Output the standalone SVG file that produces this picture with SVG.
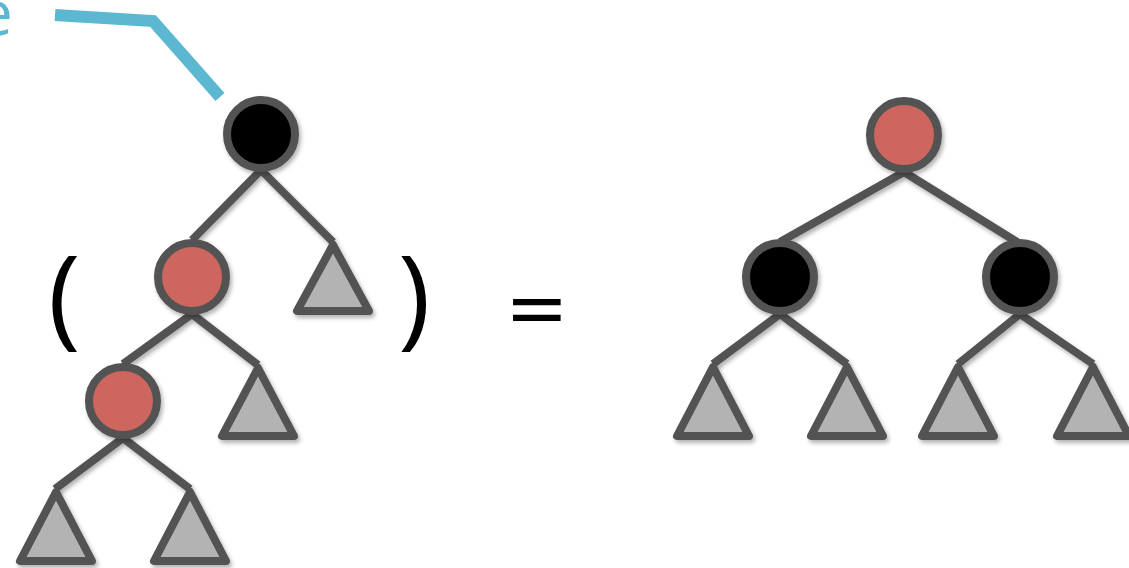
<svg xmlns="http://www.w3.org/2000/svg" width="1129" height="568" viewBox="0 0 1129 568">
<defs>
<filter id="sh" x="-30%" y="-30%" width="160%" height="160%">
<feDropShadow dx="2" dy="3" stdDeviation="2" flood-color="#000" flood-opacity="0.3"/>
</filter>
<style>
.edge{stroke:#525252;stroke-width:8;fill:none;stroke-linecap:butt}
.blk{fill:#000;stroke:#525252;stroke-width:8}
.red{fill:#cc665f;stroke:#525252;stroke-width:8}
.tri{fill:#b3b3b3;stroke:#525252;stroke-width:8;stroke-linejoin:round}
.sym{font-family:"Open Sans","DejaVu Sans",sans-serif;fill:#000}
</style>
</defs>
<rect width="1129" height="568" fill="#fff"/>
<text x="-22" y="35" font-family="Open Sans, DejaVu Sans, sans-serif" font-size="62" fill="#5bb8d0">e</text>
<polyline points="55,15 153,21 220,97" fill="none" stroke="#5bb8d0" stroke-width="12"/>
<g id="connectors" filter="url(#sh)">
<line class="edge" x1="261" y1="170" x2="192" y2="240"/>
<line class="edge" x1="261" y1="170" x2="333" y2="242"/>
<line class="edge" x1="192" y1="314" x2="123" y2="364"/>
<line class="edge" x1="192" y1="314" x2="258" y2="365"/>
<line class="edge" x1="123" y1="438" x2="55" y2="489"/>
<line class="edge" x1="123" y1="438" x2="190" y2="489"/>
<line class="edge" x1="904" y1="172" x2="780" y2="242"/>
<line class="edge" x1="904" y1="172" x2="1017" y2="242"/>
<line class="edge" x1="780" y1="314" x2="713" y2="364"/>
<line class="edge" x1="780" y1="314" x2="847" y2="364"/>
<line class="edge" x1="1020" y1="314" x2="958" y2="364"/>
<line class="edge" x1="1020" y1="314" x2="1093" y2="364"/>
</g>
<g id="L_root" filter="url(#sh)"><circle class="blk" cx="261" cy="134" r="34"/></g>
<g id="L_mid" filter="url(#sh)"><circle class="red" cx="192" cy="277" r="34"/></g>
<g id="L_low" filter="url(#sh)"><circle class="red" cx="123" cy="401" r="34"/></g>
<g id="L_t1" filter="url(#sh)"><polygon class="tri" points="333,245 297,311 369,311"/></g>
<g id="L_t2" filter="url(#sh)"><polygon class="tri" points="258,368 222,436 294,436"/></g>
<g id="L_t3" filter="url(#sh)"><polygon class="tri" points="56,492 20,561 92,561"/></g>
<g id="L_t4" filter="url(#sh)"><polygon class="tri" points="190,492 154,561 226,561"/></g>
<g id="R_root" filter="url(#sh)"><circle class="red" cx="904" cy="135" r="34"/></g>
<g id="R_left" filter="url(#sh)"><circle class="blk" cx="780" cy="277" r="34"/></g>
<g id="R_right" filter="url(#sh)"><circle class="blk" cx="1020" cy="277" r="34"/></g>
<g id="R_t1" filter="url(#sh)"><polygon class="tri" points="713,367 677,436 749,436"/></g>
<g id="R_t2" filter="url(#sh)"><polygon class="tri" points="847,367 811,436 883,436"/></g>
<g id="R_t3" filter="url(#sh)"><polygon class="tri" points="958,367 922,436 994,436"/></g>
<g id="R_t4" filter="url(#sh)"><polygon class="tri" points="1093,367 1057,436 1129,436"/></g>
<text class="sym" x="48" y="335" font-size="110">(</text>
<text class="sym" x="398" y="335" font-size="110">)</text>
<text x="505" y="334" font-family="DejaVu Sans, sans-serif" font-size="76" fill="#000">=</text>
</svg>
